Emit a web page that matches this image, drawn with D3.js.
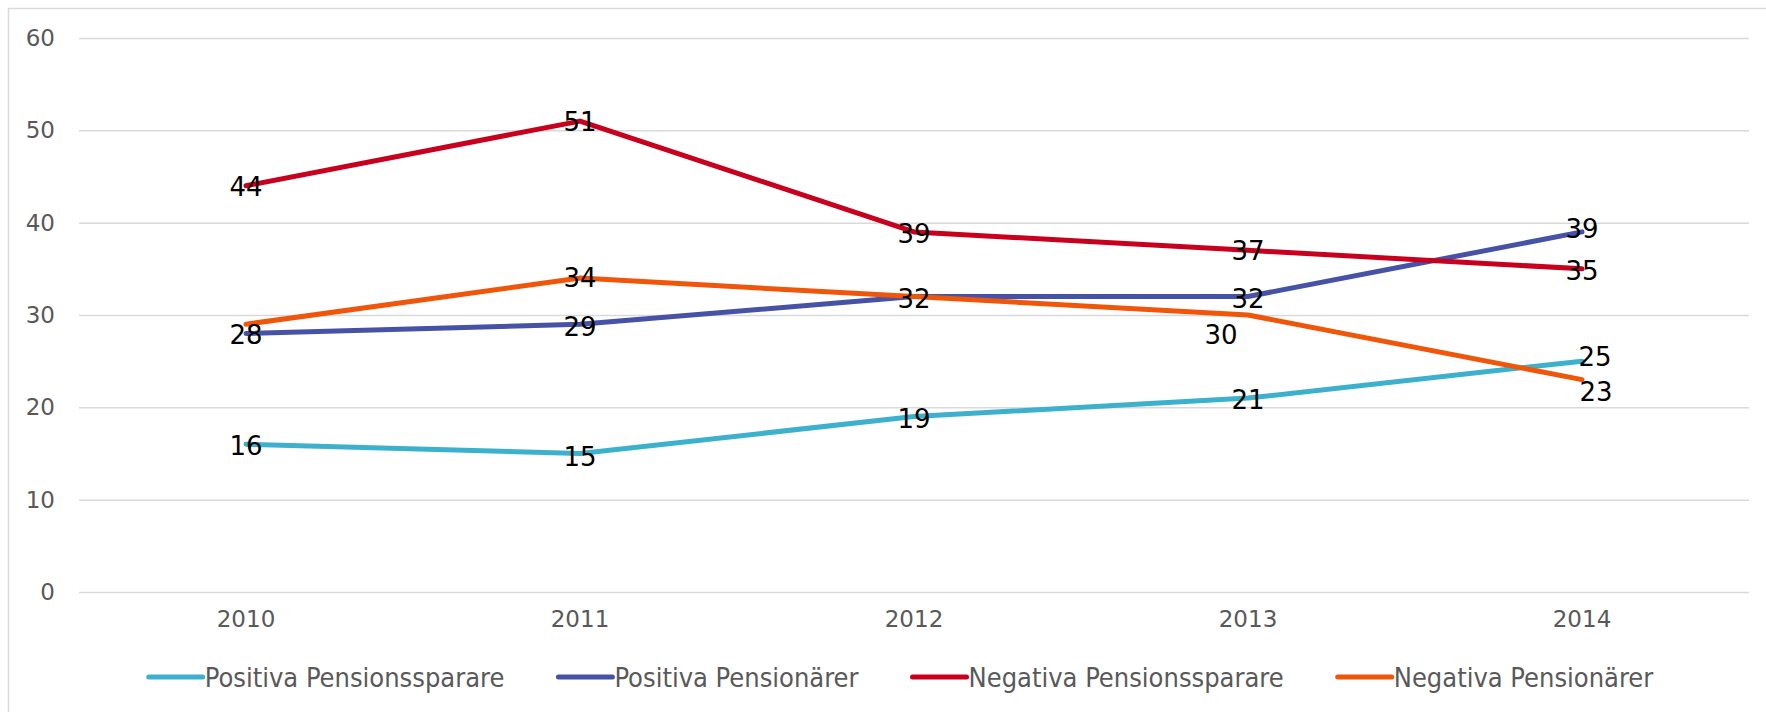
<!DOCTYPE html>
<html>
<head>
<meta charset="utf-8">
<script src="https://cdn.jsdelivr.net/npm/d3@7"></script>
<style>
  html, body { margin: 0; padding: 0; background: #fff; }
  svg { display: block; }
</style>
</head>
<body>
<svg id="chart" width="1766" height="712"></svg>
<script>
// data
const years = ['2010', '2011', '2012', '2013', '2014'];
const seriesNames = ['Positiva Pensionssparare', 'Positiva Pensionärer', 'Negativa Pensionssparare', 'Negativa Pensionärer'];
const positivaSparare = [16, 15, 19, 21, 25];
const positivaPensionarer = [28, 29, 32, 32, 39];
const negativaSparare = [44, 51, 39, 37, 35];
const negativaPensionarer = [29, 34, 32, 30, 23];
const yTicks = [0, 10, 20, 30, 40, 50, 60];

const colors = ['#3cb1cd', '#4652a6', '#c8001e', '#f0560a'];
const allSeries = [positivaSparare, positivaPensionarer, negativaSparare, negativaPensionarer];

// label nudges (px) per series / point, null = label not shown
const labelNudge = [
  [[0, 2], [0, 3], [0, 2], [0, 2], [13, -4]],
  [[0, 2], [0, 3], [0, 2], [0, 2], [0, -3]],
  [[0, 1], [0, 1], [0, 2], [0, 1], [0, 2]],
  [null, [0, 0], null, [-27, 20], [14, 12]]
];

const margin = {left: 79, right: 17, top: 38, bottom: 120};
const W = 1766, H = 712;
const font = 'DejaVu Sans, Verdana, sans-serif';

const svg = d3.select('#chart');

// outer chart frame
svg.append('rect')
  .attr('x', 8.5).attr('y', 8.5)
  .attr('width', W + 20).attr('height', H + 20)
  .attr('fill', 'none')
  .attr('stroke', '#d9d9d9')
  .attr('stroke-width', 1.5);

const x = d3.scaleBand()
  .domain(years)
  .range([margin.left, W - margin.right]);

const y = d3.scaleLinear()
  .domain([0, 60])
  .range([H - margin.bottom, margin.top]);

const cx = d => x(d) + x.bandwidth() / 2;

// gridlines + y labels
const yAxis = d3.axisLeft(y)
  .tickValues(yTicks)
  .tickSize(-(W - margin.left - margin.right))
  .tickPadding(24);

const gy = svg.append('g')
  .attr('transform', `translate(${margin.left},0)`)
  .call(yAxis);
gy.select('.domain').remove();
gy.selectAll('.tick line')
  .attr('stroke', '#d9d9d9')
  .attr('stroke-width', 1.5);
gy.selectAll('.tick text')
  .attr('fill', '#595959')
  .style('font-family', font)
  .style('font-size', '23px');

// x labels
const xAxis = d3.axisBottom(x).tickSize(0).tickPadding(19);
const gx = svg.append('g')
  .attr('transform', `translate(0,${y(0)})`)
  .call(xAxis);
gx.select('.domain').remove();
gx.selectAll('.tick text')
  .attr('fill', '#595959')
  .style('font-family', font)
  .style('font-size', '23px');

// lines
const line = d3.line()
  .x((d, i) => cx(years[i]))
  .y(d => y(d));

allSeries.forEach((vals, s) => {
  svg.append('path')
    .datum(vals)
    .attr('fill', 'none')
    .attr('stroke', colors[s])
    .attr('stroke-width', 5)
    .attr('stroke-linejoin', 'round')
    .attr('stroke-linecap', 'round')
    .attr('d', line);
});

// data labels
allSeries.forEach((vals, s) => {
  vals.forEach((v, i) => {
    const n = labelNudge[s][i];
    if (!n) return;
    svg.append('text')
      .attr('x', cx(years[i]) + n[0])
      .attr('y', y(v) + n[1])
      .attr('text-anchor', 'middle')
      .attr('dominant-baseline', 'central')
      .attr('fill', '#000')
      .style('font-family', font)
      .style('font-size', '26px')
      .text(v);
  });
});

// legend
const legend = svg.append('g');
const legendY = 677;
let lx = 0;
seriesNames.forEach((name, s) => {
  const g = legend.append('g').attr('transform', `translate(${lx},0)`);
  g.append('line')
    .attr('x1', 2).attr('x2', 56)
    .attr('y1', legendY).attr('y2', legendY)
    .attr('stroke', colors[s])
    .attr('stroke-width', 5)
    .attr('stroke-linecap', 'round');
  const t = g.append('text')
    .attr('x', 58)
    .attr('y', legendY)
    .attr('dominant-baseline', 'central')
    .attr('fill', '#595959')
    .style('font-family', 'DejaVu Sans Condensed, DejaVu Sans, sans-serif')
    .style('font-size', '27px')
    .text(name);
  const w = 58 + t.node().getComputedTextLength();
  lx += w + 52;
});
const total = lx - 52;
legend.attr('transform', `translate(${900 - total / 2},0)`);
</script>
</body>
</html>
